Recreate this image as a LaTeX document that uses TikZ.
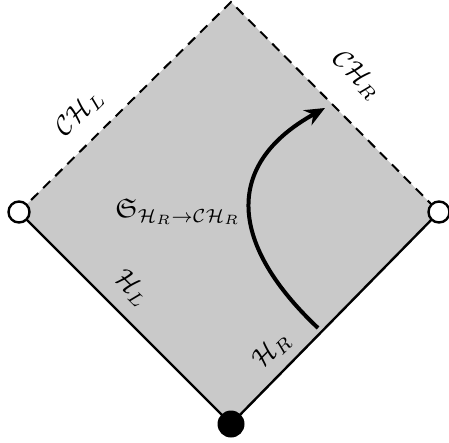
\documentclass[tikz,border=0pt]{standalone}
\usepackage{amsmath,amssymb}
\usetikzlibrary{arrows.meta}
\begin{document}
\begin{tikzpicture}[x=1pt,y=-1pt,
  edge/.style={line width=2.4pt},
  dashedge/.style={line width=2pt,dash pattern=on 10pt off 7pt},
  lbl/.style={inner sep=0pt,scale=2.7},
  opendot/.style={circle,draw,line width=2.4pt,fill=white,minimum size=21pt,inner sep=0pt},
  fulldot/.style={circle,fill=black,minimum size=27pt,inner sep=0pt}]
\useasboundingbox (0,0) rectangle (449,442);
\coordinate (T) at (231,2);
\coordinate (L) at (19,212);
\coordinate (R) at (439,212);
\coordinate (B) at (231,424);
\fill[black!21] (T) -- (R) -- (B) -- (L) -- cycle;
\draw[dashedge] (L) -- (T) -- (R);
\draw[edge] (L) -- (B) -- (R);
\node[opendot] (Ld) at (L) {};
\node[opendot] (Rd) at (R) {};
\node[fulldot] (Bd) at (B) {};
\node[lbl,rotate=45] (chl) at (80,113) {$\mathcal{CH}_L$};
\node[lbl,rotate=-45] (chr) at (357,75) {$\mathcal{CH}_R$};
\node[lbl,rotate=-45] (hl) at (132,288) {$\mathcal{H}_L$};
\node[lbl,rotate=45] (hr) at (272,350) {$\mathcal{H}_R$};
\node[lbl] (s) at (178,212) {$\mathfrak{S}_{\mathcal{H}_R\to\mathcal{CH}_R}$};
\coordinate (a0) at (318,328);
\coordinate (a1) at (325,108);
\draw[line width=4pt,-{Stealth[length=20pt,width=17pt]}] (a0) .. controls (230,245) and (222,165) .. (a1);
\end{tikzpicture}
\end{document}
